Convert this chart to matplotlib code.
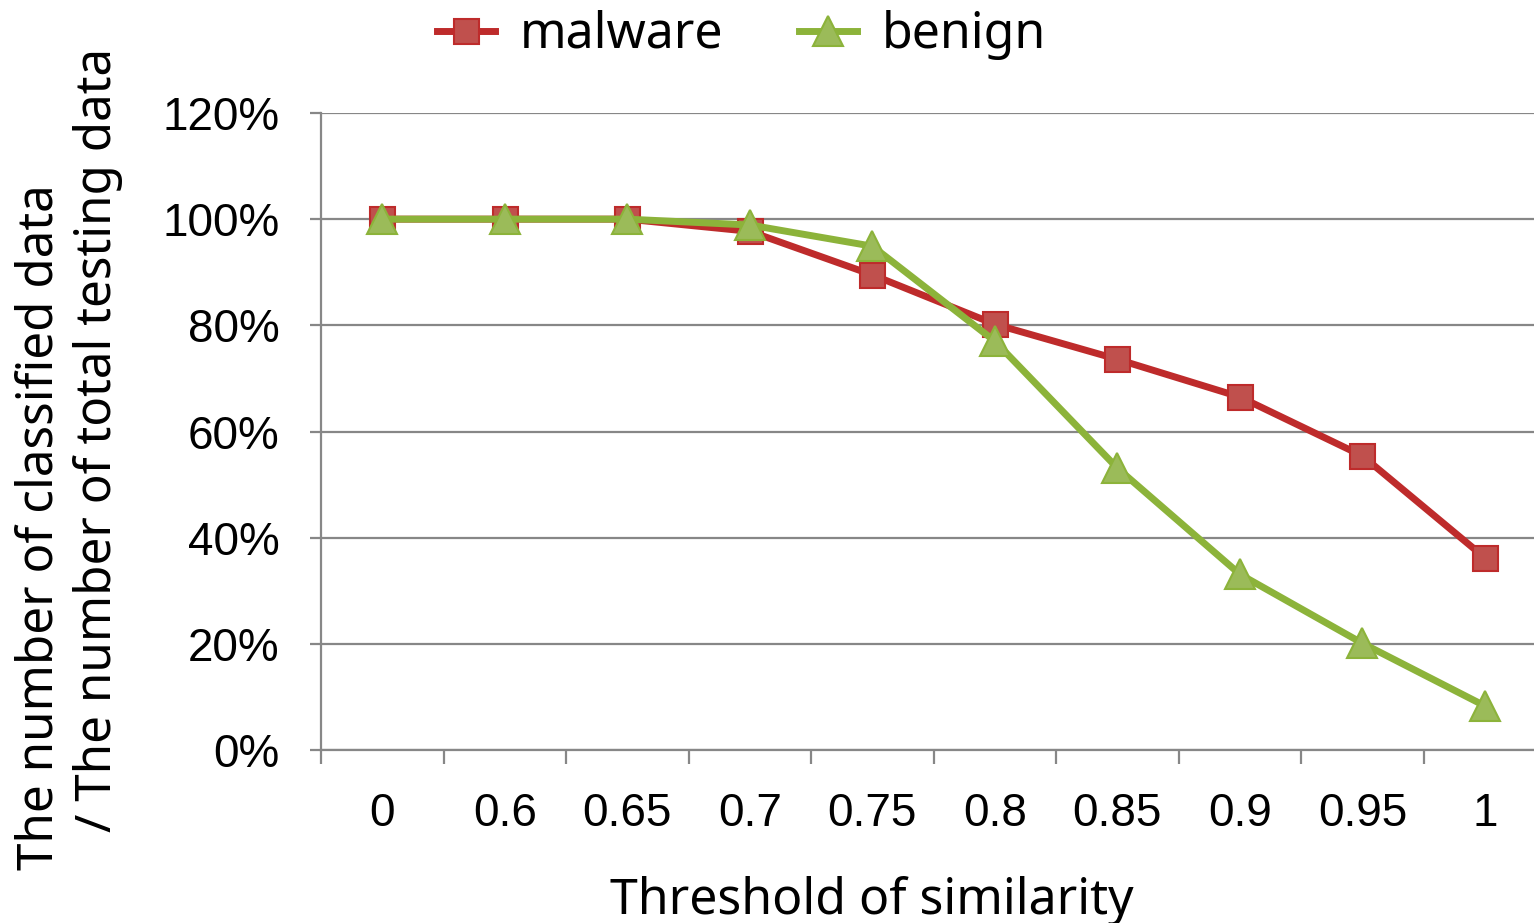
import numpy as np
import matplotlib.pyplot as plt
from matplotlib.ticker import FuncFormatter

# dữ liệu
thresholds = ['0', '0.6', '0.65', '0.7', '0.75', '0.8', '0.85', '0.9', '0.95', '1']
malware = [100, 100, 100, 97.7, 89.5, 80.2, 73.6, 66.5, 55.4, 36.2]
benign = [100, 100, 100, 98.9, 94.9, 77.0, 53.1, 33.1, 20.1, 8.3]

x = np.arange(len(thresholds))
grey = '#878787'
W, H = 1534, 923

fig = plt.figure(figsize=(15.34, 9.23), dpi=100)
ax = fig.add_axes([0.2093, 0.1874, 0.7907, 0.6902])

for y in range(0, 121, 20):
    ax.axhline(y, color=grey, lw=1.6, zorder=1)

ax.plot(x, malware, color='#BE2B2B', lw=5, marker='s', markersize=18,
        markerfacecolor='#C0504D', markeredgecolor='#BE2B2B', markeredgewidth=1.5,
        label='malware', zorder=3)
ax.plot(x, benign, color='#8CB33A', lw=5, marker='^', markersize=21,
        markerfacecolor='#9BBB59', markeredgecolor='#8CB33A', markeredgewidth=1.5,
        label='benign', zorder=4)

ax.set_xlim(-0.5, 9.4)
ax.set_ylim(0, 120)
ax.set_yticks(range(0, 121, 20))
ax.yaxis.set_major_formatter(FuncFormatter(lambda v, p: f'{int(v)}%'))

ax.set_xticks(x)
ax.set_xticklabels(thresholds)
ax.set_xticks(np.arange(-0.5, 9.5, 1), minor=True)
ax.tick_params(axis='x', which='major', length=0, pad=30, labelsize=33)
ax.tick_params(axis='x', which='minor', length=10, width=1.6, color=grey)
ax.tick_params(axis='y', length=8, width=1.6, color=grey, pad=22, labelsize=33)
for lab in ax.get_xticklabels() + ax.get_yticklabels():
    lab.set_family('Liberation Sans')

for s in ['top', 'right']:
    ax.spines[s].set_visible(False)
for s in ['left', 'bottom']:
    ax.spines[s].set_color(grey)
    ax.spines[s].set_linewidth(1.6)

# nhãn trục y: hai dòng đặt riêng
fig.text(40 / W, 1 - 527 / H, 'The number of classified data',
         rotation=90, ha='center', va='center', fontsize=35.5, family='Noto Sans')
fig.text(98 / W, 1 - 440 / H, '/ The number of total testing data',
         rotation=90, ha='center', va='center', fontsize=35.5, family='Noto Sans')
fig.text(872 / W, 9 / H, 'Threshold of similarity', ha='center', va='baseline',
         fontsize=36, family='Noto Sans')

ax.legend(loc='center left', bbox_to_anchor=(437 / W, 1 - 35 / H),
          bbox_transform=fig.transFigure, ncol=2, frameon=False,
          prop={'family': 'Noto Sans', 'size': 36}, handlelength=1.16,
          columnspacing=1.5, handletextpad=0.5, borderpad=0, borderaxespad=0)

fig.savefig('out.png', dpi=100)
